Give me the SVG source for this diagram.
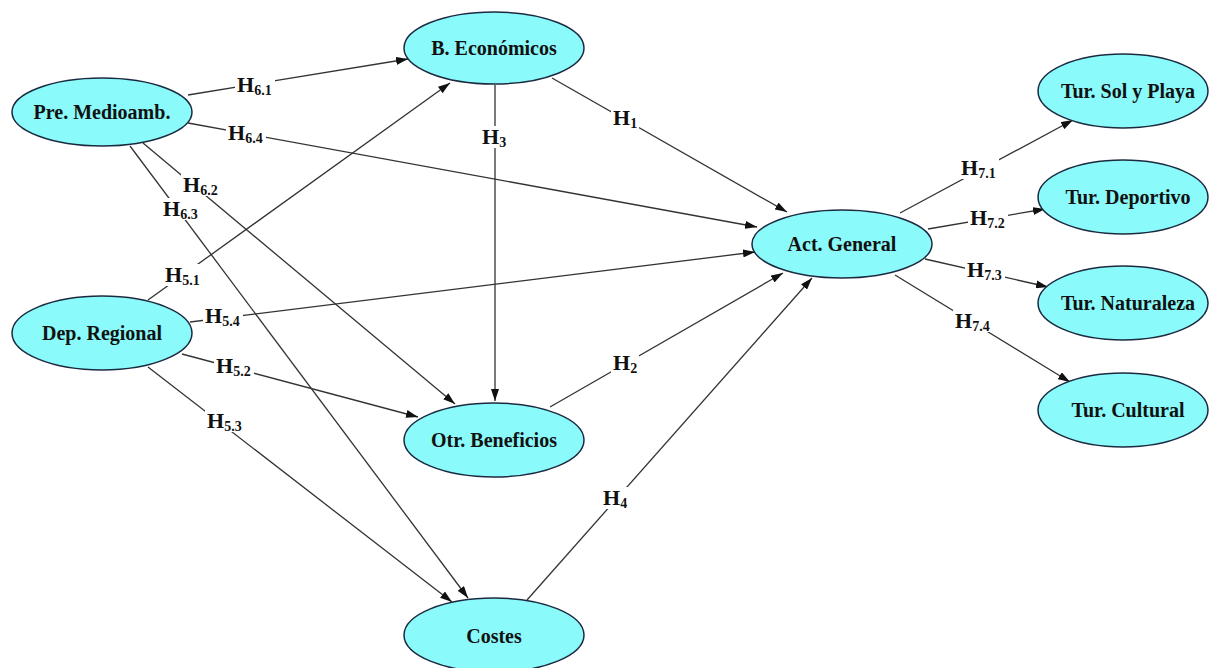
<svg xmlns="http://www.w3.org/2000/svg" width="1210" height="668" viewBox="0 0 1210 668">
<defs>
<marker id="arr" viewBox="0 0 12 8" refX="12" refY="4" markerWidth="12" markerHeight="8" markerUnits="userSpaceOnUse" orient="auto">
<path d="M0,0 L12,4 L0,8 Z" fill="#111"/>
</marker>
<style>
.node ellipse{fill:#8AFAFA;stroke:#1c2a40;stroke-width:1.5}
.node text{font-family:"Liberation Serif",serif;font-weight:bold;font-size:20px;fill:#111;text-anchor:middle}
.edge line{stroke:#333;stroke-width:1.3;marker-end:url(#arr)}
.lab rect{fill:#fff}
.lab text{font-family:"Liberation Serif",serif;font-weight:bold;font-size:22px;fill:#111}
.lab tspan{font-size:14px}
</style>
</defs>
<rect width="1210" height="668" fill="#fff"/>
<g id="connectors">
<g class="edge">
<line x1="188" y1="95" x2="408" y2="59"/>
<line x1="188" y1="123" x2="757" y2="227"/>
<line x1="143" y1="143" x2="455" y2="404"/>
<line x1="130" y1="146" x2="468" y2="598"/>
<line x1="148" y1="300" x2="450" y2="83"/>
<line x1="190" y1="322" x2="755" y2="252"/>
<line x1="182" y1="354" x2="418" y2="417"/>
<line x1="148" y1="367" x2="452" y2="602"/>
<line x1="495" y1="85" x2="495" y2="401"/>
<line x1="552" y1="78" x2="787" y2="212"/>
<line x1="550" y1="407" x2="783" y2="273"/>
<line x1="527" y1="600" x2="812" y2="278"/>
<line x1="900" y1="213" x2="1073" y2="120"/>
<line x1="928" y1="229" x2="1045" y2="209"/>
<line x1="925" y1="259" x2="1048" y2="287"/>
<line x1="895" y1="275" x2="1070" y2="382"/>
</g>
<g class="lab">
<rect x="235" y="74" width="40" height="22"/><text x="237" y="92">H<tspan dy="3">6.1</tspan></text>
<rect x="226" y="122" width="40" height="22"/><text x="228" y="140">H<tspan dy="3">6.4</tspan></text>
<rect x="181" y="174" width="40" height="22"/><text x="183" y="192">H<tspan dy="3">6.2</tspan></text>
<rect x="161" y="198" width="40" height="22"/><text x="163" y="216">H<tspan dy="3">6.3</tspan></text>
<rect x="163" y="264" width="40" height="22"/><text x="165" y="282">H<tspan dy="3">5.1</tspan></text>
<rect x="203" y="305" width="40" height="22"/><text x="205" y="323">H<tspan dy="3">5.4</tspan></text>
<rect x="214" y="355" width="40" height="22"/><text x="216" y="373">H<tspan dy="3">5.2</tspan></text>
<rect x="205" y="410" width="40" height="22"/><text x="207" y="428">H<tspan dy="3">5.3</tspan></text>
<rect x="480" y="126" width="28" height="22"/><text x="482" y="144">H<tspan dy="3">3</tspan></text>
<rect x="611" y="107" width="28" height="22"/><text x="613" y="125">H<tspan dy="3">1</tspan></text>
<rect x="611" y="352" width="28" height="22"/><text x="613" y="370">H<tspan dy="3">2</tspan></text>
<rect x="601" y="487" width="28" height="22"/><text x="603" y="505">H<tspan dy="3">4</tspan></text>
<rect x="959" y="157" width="40" height="22"/><text x="961" y="175">H<tspan dy="3">7.1</tspan></text>
<rect x="968" y="207" width="40" height="22"/><text x="970" y="225">H<tspan dy="3">7.2</tspan></text>
<rect x="965" y="259" width="40" height="22"/><text x="967" y="277">H<tspan dy="3">7.3</tspan></text>
<rect x="953" y="310" width="40" height="22"/><text x="955" y="328">H<tspan dy="3">7.4</tspan></text>
</g>
</g>
<g id="pre" class="node"><ellipse cx="102" cy="112" rx="90" ry="34"/><text x="102" y="119">Pre. Medioamb.</text></g>
<g id="dep" class="node"><ellipse cx="102" cy="333" rx="90" ry="37"/><text x="102" y="340">Dep. Regional</text></g>
<g id="beco" class="node"><ellipse cx="494" cy="48" rx="90" ry="36"/><text x="494" y="55">B. Económicos</text></g>
<g id="otr" class="node"><ellipse cx="494" cy="440" rx="90" ry="37"/><text x="494" y="447">Otr. Beneficios</text></g>
<g id="costes" class="node"><ellipse cx="494" cy="635" rx="90" ry="37"/><text x="494" y="643">Costes</text></g>
<g id="act" class="node"><ellipse cx="842" cy="244" rx="90" ry="34"/><text x="842" y="251">Act. General</text></g>
<g id="sol" class="node"><ellipse cx="1123" cy="91" rx="85" ry="37"/><text x="1128" y="98">Tur. Sol y Playa</text></g>
<g id="deportivo" class="node"><ellipse cx="1123" cy="197" rx="85" ry="37"/><text x="1128" y="204">Tur. Deportivo</text></g>
<g id="naturaleza" class="node"><ellipse cx="1123" cy="303" rx="85" ry="37"/><text x="1128" y="310">Tur. Naturaleza</text></g>
<g id="cultural" class="node"><ellipse cx="1123" cy="410" rx="85" ry="37"/><text x="1128" y="417">Tur. Cultural</text></g>
</svg>
